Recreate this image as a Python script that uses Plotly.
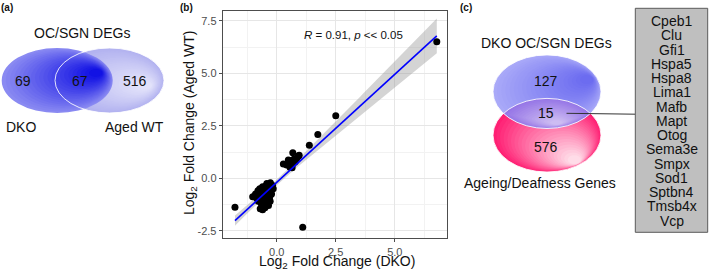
import numpy as np
import plotly.graph_objects as go

# ---------------- data ----------------
venn_a_labels = ["DKO", "Aged WT"]
venn_a_counts = [69, 67, 516]          # DKO only, shared, Aged WT only
venn_a_title = "OC/SGN DEGs"

venn_c_labels = ["DKO OC/SGN DEGs", "Ageing/Deafness Genes"]
venn_c_counts = [127, 15, 576]          # DEGs only, shared, ageing only

shared_genes = ["Cpeb1", "Clu", "Gfi1", "Hspa5", "Hspa8", "Lima1", "Mafb", "Mapt",
                "Otog", "Sema3e", "Smpx", "Sod1", "Sptbn4", "Tmsb4x", "Vcp"]

# log2 fold changes of the 67 shared DEGs
lfc_dko = [6.78, 2.50, 1.74, 1.38, 1.10, -1.77,
           0.28, 0.42, 0.49, 0.56, 0.60, 0.62, 0.68, 0.70, 0.72, 0.78, 0.85, 0.92, 0.95, 0.65, 0.58,
           -1.02, -0.90, -0.85, -0.80, -0.78, -0.75, -0.72, -0.70, -0.68, -0.65, -0.62, -0.60,
           -0.60, -0.58, -0.55, -0.55, -0.52, -0.50, -0.50, -0.48, -0.46, -0.45, -0.44, -0.42,
           -0.40, -0.40, -0.38, -0.36, -0.35, -0.34, -0.32, -0.30, -0.30, -0.28, -0.27, -0.25,
           -0.22, -0.21, -0.18, -0.15, -0.60, -0.66, -0.42, -0.50, -0.70, -0.55]
lfc_aged = [6.50, 2.98, 2.08, 1.57, -2.33, -1.38,
            0.68, 0.63, 0.87, 0.52, 0.60, 0.85, 1.22, 0.70, 0.90, 0.79, 0.95, 1.06, 1.10, 0.50, 0.65,
            -0.88, -0.75, -0.95, -0.60, -1.10, -0.85, -0.50, -1.45, -0.70, -0.95, -0.55, -1.50,
            -0.80, -1.15, -0.45, -0.65, -0.90, -1.05, -1.40, -0.75, -0.55, -0.35, -0.95, -1.20,
            -0.65, -0.85, -0.50, -1.00, -1.30, -0.30, -0.70, -0.55, -0.90, -1.10, -0.21, -0.45,
            -0.75, -0.48, -0.35, -0.50, -0.40, -1.20, -0.25, -0.60, -1.05, -1.25]
stat_text = "<i>R</i> = 0.91, <i>p</i> &lt;&lt; 0.05"

x_ticks = [0.0, 2.5, 5.0]
y_ticks = [-2.5, 0.0, 2.5, 5.0, 7.5]

# ---------------- helpers ----------------
W, H = 709, 273
FONT = "Liberation Sans, Arial, sans-serif"


def px(x):
    return x / W


def py(y):
    return 1 - y / H


def hex2rgb(h):
    h = h.lstrip("#")
    return [int(h[i:i + 2], 16) for i in (0, 2, 4)]


def mix(c1, c2, t):
    a, b = hex2rgb(c1), hex2rgb(c2)
    return "rgb(%d,%d,%d)" % tuple(round(a[i] + (b[i] - a[i]) * t) for i in range(3))


shapes = []
annotations = []


def grad_ellipse(x0, y0, x1, y1, fx, fy, c_out, c_in, n=22, shrink=0.88):
    for k in range(n):
        f = k / (n - 1)
        t = f * shrink
        a0 = x0 + (fx - x0) * t
        a1 = x1 + (fx - x1) * t
        b0 = y0 + (fy - y0) * t
        b1 = y1 + (fy - y1) * t
        shapes.append(dict(type="circle", xref="paper", yref="paper",
                           x0=px(a0), x1=px(a1), y0=py(b1), y1=py(b0),
                           fillcolor=mix(c_out, c_in, f), line=dict(width=0), layer="above"))


def outline_ellipse(x0, y0, x1, y1, color="rgba(255,255,255,0.85)", w=1):
    shapes.append(dict(type="circle", xref="paper", yref="paper",
                       x0=px(x0), x1=px(x1), y0=py(y1), y1=py(y0),
                       line=dict(color=color, width=w), fillcolor="rgba(0,0,0,0)", layer="above"))


def text(x, y, s, size=14, color="#111111", **kw):
    annotations.append(dict(x=px(x), y=py(y), xref="paper", yref="paper", text=s,
                            showarrow=False, font=dict(family=FONT, size=size, color=color),
                            xanchor=kw.pop("xanchor", "center"), yanchor=kw.pop("yanchor", "middle"), **kw))


# ---------------- panel (a) ----------------
grad_ellipse(55, 48, 164, 113, 150, 86, "#b2b2f0", "#e2e2fa")
grad_ellipse(1.7, 48, 112.7, 113, 101, 72, "#8a8af2", "#1212e4")
outline_ellipse(55, 48, 164, 113)
text(7, 7, "<b>(a)</b>", size=10)
text(81.5, 33, venn_a_title)
text(23, 81, str(venn_a_counts[0]))
text(80, 81, str(venn_a_counts[1]))
text(135, 81, str(venn_a_counts[2]))
text(20.5, 127, venn_a_labels[0])
text(134, 127, venn_a_labels[1])

# ---------------- panel (c) ----------------
cx, a_e, b_e = 547.0, 54.0, 36.8
cyt, cyb = 91.7, 135.2
grad_ellipse(cx - a_e, cyb - b_e, cx + a_e, cyb + b_e, 578, 163, "#ff1f73", "#ffdce8")
grad_ellipse(cx - a_e, cyt - b_e, cx + a_e, cyt + b_e, 592, 78, "#a9a9f8", "#6c6cf0")

# lens (intersection) as polygon
s = (cyb - cyt) / (2 * b_e)
xl, xr = cx - a_e * np.sqrt(1 - s ** 2), cx + a_e * np.sqrt(1 - s ** 2)
xs = np.linspace(xl, xr, 60)
u = np.sqrt(np.clip(1 - ((xs - cx) / a_e) ** 2, 0, 1))
top_arc = np.column_stack([xs, cyb - b_e * u])
bot_arc = np.column_stack([xs[::-1], (cyt + b_e * u)[::-1]])
lens = np.vstack([top_arc, bot_arc])
lfx, lfy = 558, 124
nl = 16
for k in range(nl):
    f = k / (nl - 1)
    t = f * 0.85
    pts = lens + (np.array([lfx, lfy]) - lens) * t
    path = "M " + " L ".join("%.5f,%.5f" % (px(p[0]), py(p[1])) for p in pts) + " Z"
    shapes.append(dict(type="path", xref="paper", yref="paper", path=path,
                       fillcolor=mix("#9676e6", "#cdbcf2", f), line=dict(width=0), layer="above"))
outline_ellipse(cx - a_e, cyt - b_e, cx + a_e, cyt + b_e)
outline_ellipse(cx - a_e, cyb - b_e, cx + a_e, cyb + b_e)

# connector line and gene box
shapes.append(dict(type="line", xref="paper", yref="paper", x0=px(566.5), x1=px(635.3),
                   y0=py(113.3), y1=py(114.2), line=dict(color="#333333", width=1), layer="above"))
shapes.append(dict(type="rect", xref="paper", yref="paper", x0=px(635.3), x1=px(707.7),
                   y0=py(232.3), y1=py(8.3), fillcolor="#bfbfbf",
                   line=dict(color="#5a5a5a", width=1), layer="above"))
for i, g in enumerate(shared_genes):
    text(671.5, 21.0 + i * 14.26, g, size=14)

text(466, 7, "<b>(c)</b>", size=10)
text(546.5, 43, venn_c_labels[0])
text(545.7, 81, str(venn_c_counts[0]))
text(545.7, 113.3, str(venn_c_counts[1]))
text(545.7, 146.7, str(venn_c_counts[2]))
text(539.5, 183, venn_c_labels[1])

# ---------------- panel (b) ----------------
x = np.array(lfc_dko)
y = np.array(lfc_aged)
n = len(x)
slope, intercept = np.polyfit(x, y, 1)
xg = np.linspace(x.min(), x.max(), 80)
yg = intercept + slope * xg
resid = y - (intercept + slope * x)
s_err = np.sqrt(np.sum(resid ** 2) / (n - 2))
sxx = np.sum((x - x.mean()) ** 2)
tcrit = 1.998
half = tcrit * s_err * np.sqrt(1 / n + (xg - x.mean()) ** 2 / sxx)

fig = go.Figure()
fig.add_trace(go.Scatter(x=np.concatenate([xg, xg[::-1]]),
                         y=np.concatenate([yg + half, (yg - half)[::-1]]),
                         fill="toself", fillcolor="rgba(153,153,153,0.42)",
                         line=dict(width=0), mode="lines", hoverinfo="skip", showlegend=False))
fig.add_trace(go.Scatter(x=x, y=y, mode="markers",
                         marker=dict(color="black", size=7, line=dict(width=0)),
                         showlegend=False))
fig.add_trace(go.Scatter(x=xg, y=yg, mode="lines", line=dict(color="#0000ff", width=1.6),
                         showlegend=False))

text(190, 123, "Log<sub>2</sub> Fold Change (Aged WT)", size=14, textangle=-90)
text(336.7, 262, "Log<sub>2</sub> Fold Change (DKO)", size=14)
text(353.5, 35, stat_text, size=11.5)
text(186, 7, "<b>(b)</b>", size=10)

axis_common = dict(showline=True, mirror=True, linecolor="#4d4d4d", linewidth=1,
                   showgrid=True, gridcolor="#e6e6e6", gridwidth=1, zeroline=False,
                   ticks="outside", ticklen=3, tickcolor="#4d4d4d",
                   tickfont=dict(family=FONT, size=11, color="#4d4d4d"),
                   minor=dict(showgrid=True, gridcolor="#f2f2f2", gridwidth=0.6, dtick=1.25,
                              tick0=-1.25, ticks=""))

fig.update_layout(
    width=W, height=H, margin=dict(l=0, r=0, t=0, b=0),
    paper_bgcolor="white", plot_bgcolor="white",
    xaxis=dict(domain=[222.7 / W, 446.7 / W], range=[-2.29, 7.2],
               tickvals=x_ticks, ticktext=["%.1f" % v for v in x_ticks], **axis_common),
    yaxis=dict(domain=[1 - 238.3 / H, 1 - 10.7 / H], range=[-2.86, 7.98],
               tickvals=y_ticks, ticktext=["%.1f" % v for v in y_ticks], **axis_common),
    shapes=shapes, annotations=annotations,
    font=dict(family=FONT),
)

fig.write_html("out.html", config={"displayModeBar": False},
               post_script="document.body.style.margin='0';document.body.style.padding='0';")
